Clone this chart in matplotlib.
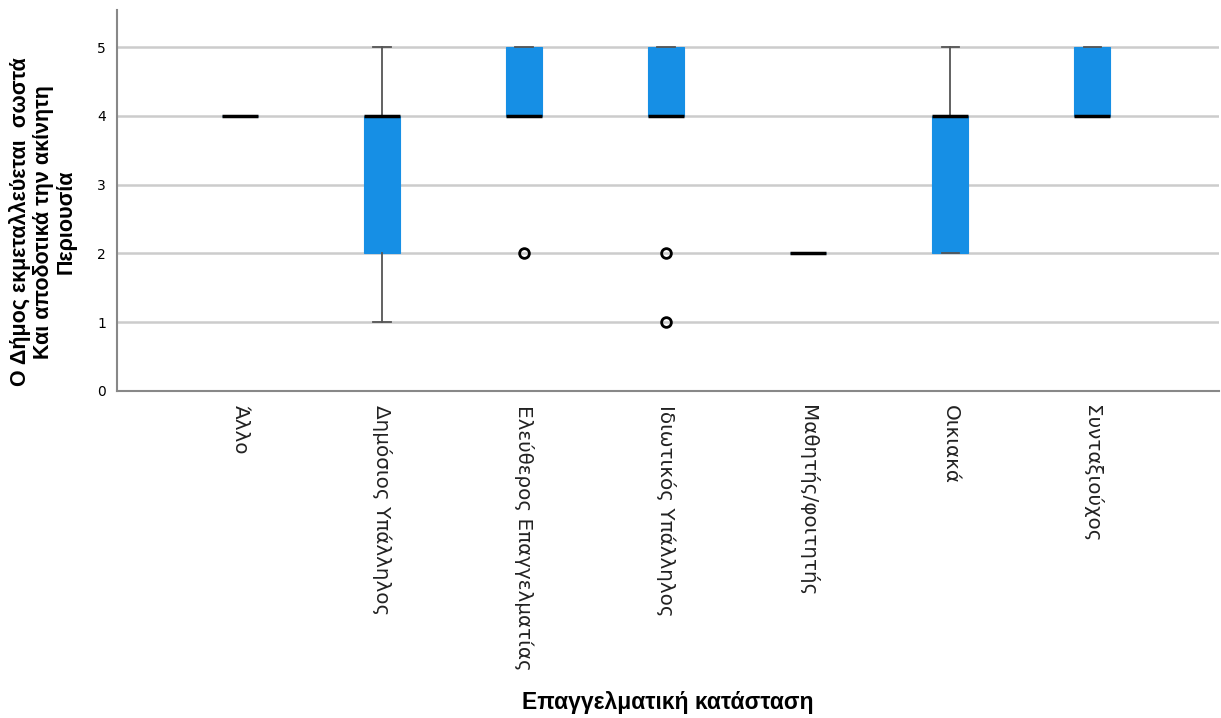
import matplotlib
matplotlib.use('Agg')
import matplotlib.pyplot as plt

# categories (x axis) and box statistics
categories = ['Άλλο', 'Δημόσιος Υπάλληλος', 'Ελεύθερος Επαγγελματίας',
              'Ιδιωτικός Υπάλληλος', 'Μαθητής/φοιτητής', 'Οικιακά', 'Συνταξιούχος']
q1 = [4, 2, 4, 4, 2, 2, 4]
med = [4, 4, 4, 4, 2, 4, 4]
q3 = [4, 4, 5, 5, 2, 4, 5]
whislo = [4, 1, 4, 4, 2, 2, 4]
whishi = [4, 5, 5, 5, 2, 5, 5]
fliers = [[], [], [2], [2, 1], [], [], []]

ylabel_text = 'Ο Δήμος εκμεταλλεύεται  σωστά\nΚαι αποδοτικά την ακίνητη\nΠεριουσία'
xlabel_text = 'Επαγγελματική κατάσταση'

box_color = '#168fe5'

stats = []
for i in range(len(categories)):
    stats.append({'q1': q1[i], 'med': med[i], 'q3': q3[i],
                  'whislo': whislo[i], 'whishi': whishi[i],
                  'fliers': fliers[i], 'label': categories[i]})

fig = plt.figure(figsize=(12.21, 7.18), dpi=100)
ax = fig.add_axes([117/1221, 1-391/718, (1219-117)/1221, (391-10)/718])

positions = list(range(len(categories)))
ax.bxp(stats, positions=positions, widths=0.25, patch_artist=True,
       showfliers=True,
       boxprops=dict(facecolor=box_color, edgecolor=box_color, linewidth=0.8),
       medianprops=dict(color='black', linewidth=2.5, solid_capstyle='butt'),
       whiskerprops=dict(color='#555555', linewidth=1.3),
       capprops=dict(color='#555555', linewidth=1.3),
       capwidths=0.12,
       flierprops=dict(marker='o', markerfacecolor='none', markeredgecolor='black',
                       markeredgewidth=2, markersize=7))

ax.set_xlim(-0.866, 6.894)
ax.set_ylim(0, 5.54)
ax.set_yticks([0, 1, 2, 3, 4, 5])
ax.yaxis.grid(True, color='#cccccc', linewidth=1.8)
ax.set_axisbelow(True)
ax.tick_params(axis='both', length=0)
ax.tick_params(axis='y', labelsize=10, pad=8)
ax.set_xticks(positions)
ax.set_xticklabels(categories, rotation=-90, ha='center', va='top',
                   fontsize=14.3, color='#222222')
ax.tick_params(axis='x', pad=10)

for s in ['top', 'right']:
    ax.spines[s].set_visible(False)
ax.spines['left'].set_color('#888888')
ax.spines['bottom'].set_color('#888888')
ax.spines['left'].set_linewidth(1.5)
ax.spines['bottom'].set_linewidth(1.5)

fig.text(43/1221, 1-222/718, ylabel_text, rotation=90, ha='center', va='center',
         multialignment='center', fontsize=15.5, fontweight='bold',
         family='Liberation Sans', linespacing=1.12)
fig.text(668/1221, 1-703/718, xlabel_text, ha='center', va='center',
         fontsize=16.5, fontweight='bold', family='Liberation Sans')

fig.savefig('out.png', dpi=100, facecolor='white')
